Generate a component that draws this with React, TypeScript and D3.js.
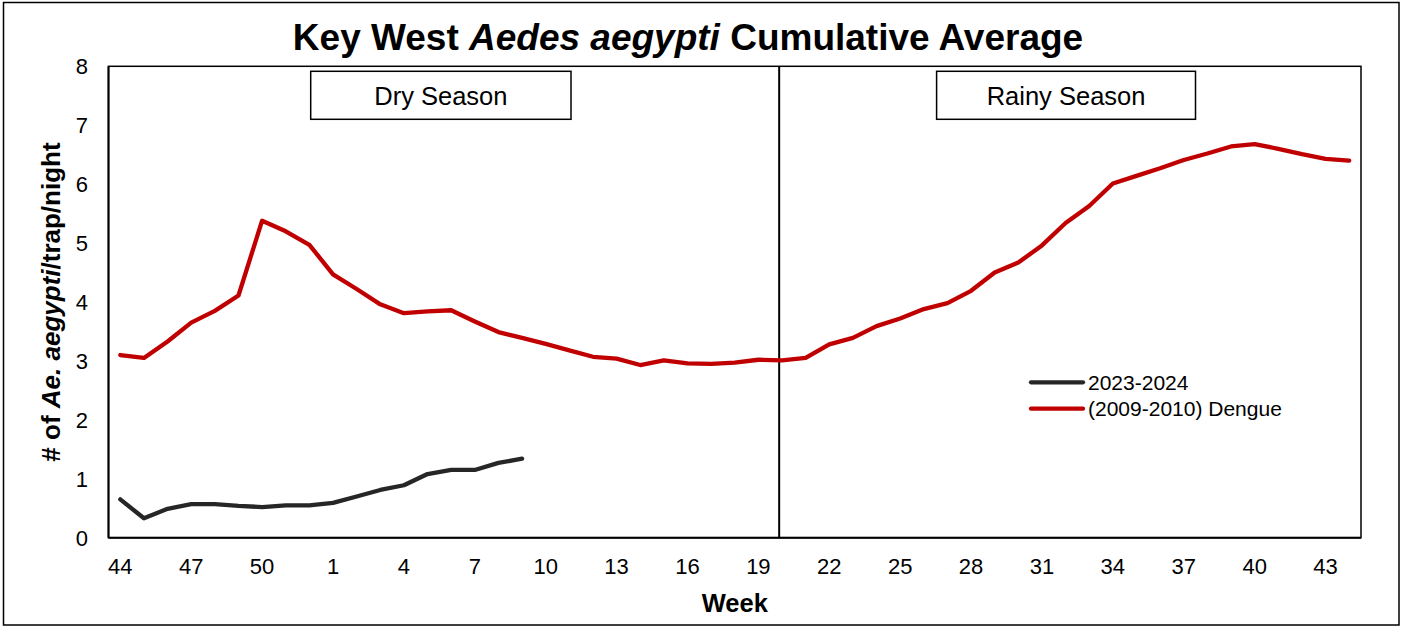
import React from "react";
import * as d3 from "d3";

const weeks: number[] = [
  44, 45, 46, 47, 48, 49, 50, 51, 52,
  1, 2, 3, 4, 5, 6, 7, 8, 9, 10, 11, 12, 13, 14, 15, 16, 17, 18, 19, 20,
  21, 22, 23, 24, 25, 26, 27, 28, 29, 30, 31, 32, 33, 34, 35, 36, 37, 38, 39, 40,
  41, 42, 43, 44,
];

const dengue2009: number[] = [
  3.10, 3.05, 3.33, 3.65, 3.85, 4.11, 5.38, 5.20, 4.97, 4.47,
  4.22, 3.96, 3.81, 3.84, 3.86, 3.67, 3.49, 3.39, 3.29, 3.18,
  3.07, 3.04, 2.93, 3.01, 2.96, 2.95, 2.97, 3.02, 3.01, 3.05,
  3.28, 3.39, 3.59, 3.72, 3.88, 3.98, 4.19, 4.50, 4.67, 4.96,
  5.34, 5.63, 6.01, 6.14, 6.27, 6.41, 6.52, 6.64, 6.68, 6.60,
  6.51, 6.43, 6.40,
];

const season2023: number[] = [
  0.65, 0.33, 0.49, 0.57, 0.57, 0.54, 0.52, 0.55, 0.55, 0.59,
  0.70, 0.81, 0.89, 1.08, 1.15, 1.15, 1.27, 1.34,
];

const yTicks: number[] = [0, 1, 2, 3, 4, 5, 6, 7, 8];
const tickEvery = 3;
// divider sits just before week 20 (index 28)
const dividerIndex = 27.88;

const seriesNames = ["2023-2024", "(2009-2010) Dengue"];
const seasonLabels = ["Dry Season", "Rainy Season"];

const W = 1405;
const H = 627;
const FONT = "'Liberation Sans', Arial, Helvetica, sans-serif";
const RED = "#C00000";
const DARK = "#262626";

export default function App() {
  const left = 108.5, right = 1361, top = 66.3, bottom = 537.7;
  const idx = weeks.map((_, i) => i);
  const x = d3.scalePoint<number>().domain(idx).range([left, right]).padding(0.5);
  const step = x.step();
  const xc = (i: number) => (x(0) as number) + i * step;
  const y = d3.scaleLinear().domain([0, 8]).range([bottom, top]);

  const line = d3
    .line<number>()
    .x((_, i) => x(i) as number)
    .y((d) => y(d));

  const divX = xc(dividerIndex);

  return (
    <svg
      width={W}
      height={H}
      style={{ position: "absolute", left: 0, top: 0, background: "#fff" }}
      fontFamily={FONT}
    >
      <rect x={3.5} y={2.5} width={1395.5} height={622.5} fill="#fff" stroke="#000" strokeWidth={1.5} />
      {/* Title */}
      <text x={688} y={50} textAnchor="middle" fontSize={37} fontWeight="bold" fill="#000">
        Key West <tspan fontStyle="italic">Aedes aegypti</tspan> Cumulative Average
      </text>
      {/* Plot frame */}
      <rect x={left} y={top} width={right - left} height={bottom - top} fill="none" stroke="#000" strokeWidth={1.5} />
      <line x1={left} x2={left} y1={top} y2={bottom} stroke="#000" strokeWidth={2} />
      <line x1={left} x2={right} y1={bottom} y2={bottom} stroke="#000" strokeWidth={2} />
      {/* Y ticks */}
      {yTicks.map((t) => (
        <text key={t} x={88} y={y(t) + 8} textAnchor="end" fontSize={22} fill="#000">
          {t}
        </text>
      ))}
      {/* X ticks */}
      {idx
        .filter((i) => i % tickEvery === 0 && i < weeks.length - 1)
        .map((i) => (
          <text key={i} x={x(i) as number} y={574} textAnchor="middle" fontSize={22} fill="#000">
            {weeks[i]}
          </text>
        ))}
      {/* Axis titles */}
      <text x={(left + right) / 2} y={612} textAnchor="middle" fontSize={25.5} fontWeight="bold" fill="#000">
        Week
      </text>
      <text
        transform={`translate(60,${(top + bottom) / 2}) rotate(-90)`}
        textAnchor="middle"
        fontSize={26}
        fontWeight="bold"
        fill="#000"
      >
        # of <tspan fontStyle="italic">Ae. aegypti</tspan>/trap/night
      </text>
      {/* Divider */}
      <line x1={divX} x2={divX} y1={top} y2={bottom} stroke="#000" strokeWidth={2} />
      {/* Season boxes */}
      {[
        { label: seasonLabels[0], x0: 310.7, x1: 571 },
        { label: seasonLabels[1], x0: 936.6, x1: 1195.5 },
      ].map((b) => (
        <g key={b.label}>
          <rect x={b.x0} y={71.3} width={b.x1 - b.x0} height={48} fill="#fff" stroke="#000" strokeWidth={1.5} />
          <text x={(b.x0 + b.x1) / 2} y={105} textAnchor="middle" fontSize={25.5} fill="#000">
            {b.label}
          </text>
        </g>
      ))}
      {/* Lines */}
      <path d={line(dengue2009) || ""} fill="none" stroke={RED} strokeWidth={4.3} strokeLinejoin="round" strokeLinecap="round" />
      <path d={line(season2023) || ""} fill="none" stroke={DARK} strokeWidth={4.3} strokeLinejoin="round" strokeLinecap="round" />
      {/* Legend */}
      {[
        { name: seriesNames[0], color: DARK, ly: 382.3 },
        { name: seriesNames[1], color: RED, ly: 408.7 },
      ].map((l) => (
        <g key={l.name}>
          <line x1={1031} x2={1083} y1={l.ly} y2={l.ly} stroke={l.color} strokeWidth={4.3} strokeLinecap="round" />
          <text x={1088} y={l.ly + 7.5} fontSize={21} fill="#000">
            {l.name}
          </text>
        </g>
      ))}
    </svg>
  );
}
